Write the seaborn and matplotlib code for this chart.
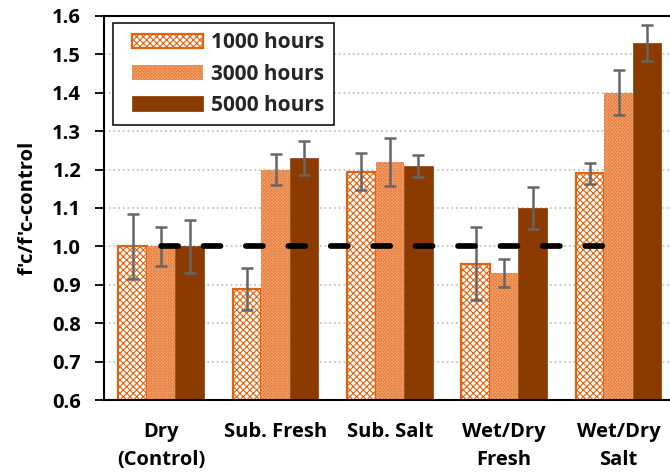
import matplotlib
matplotlib.use("Agg")
import matplotlib.pyplot as plt
from matplotlib.patches import Rectangle
from matplotlib.legend_handler import HandlerPatch
import seaborn as sns
import pandas as pd
import numpy as np

# Exposure conditions and durations
categories = ["Dry\n(Control)", "Sub. Fresh", "Sub. Salt", "Wet/Dry\nFresh", "Wet/Dry\nSalt"]
series = ["1000 hours", "3000 hours", "5000 hours"]

# Normalized compressive strength f'c / f'c-control
h1000 = [1.00, 0.89, 1.195, 0.955, 1.19]
h3000 = [1.00, 1.20, 1.22, 0.93, 1.40]
h5000 = [1.00, 1.23, 1.21, 1.10, 1.53]

# Standard deviations
err1000 = [0.085, 0.055, 0.048, 0.095, 0.027]
err3000 = [0.050, 0.040, 0.063, 0.037, 0.059]
err5000 = [0.068, 0.045, 0.029, 0.055, 0.047]

control_level = 1.0
y_ticks = [0.6, 0.7, 0.8, 0.9, 1.0, 1.1, 1.2, 1.3, 1.4, 1.5, 1.6]

values = [h1000, h3000, h5000]
errors = [err1000, err3000, err5000]

df = pd.DataFrame({
    "condition": np.repeat([categories], 3, axis=0).ravel(),
    "duration": np.repeat(series, len(categories)),
    "ratio": np.concatenate(values),
})

FONT = ["Open Sans", "DejaVu Sans"]

sns.set_theme(style="white")
plt.rcParams["font.family"] = FONT
plt.rcParams["font.weight"] = "bold"
plt.rcParams["hatch.linewidth"] = 0.8

ORANGE = "#E2620E"
MID = "#E06820"
MID_HATCH = "#EE9A62"
DARK = "#8B3A00"

fig = plt.figure(figsize=(6.7, 4.75), dpi=100)
ax = fig.add_axes([104 / 670, 75 / 475, 566 / 670, 384 / 475])

sns.barplot(data=df, x="condition", y="ratio", hue="duration",
            order=categories, hue_order=series, width=0.75, gap=0,
            errorbar=None, ax=ax, legend=False, zorder=2)

styles = [
    dict(facecolor="white", edgecolor=ORANGE, hatch="xxxxx", linewidth=1.6),
    dict(facecolor=MID, edgecolor=MID_HATCH, hatch="xxxxxxxxxx", linewidth=0),
    dict(facecolor=DARK, edgecolor=DARK, hatch=None, linewidth=0.5),
]
for cont, st in zip(ax.containers, styles):
    for bar in cont:
        bar.set_facecolor(st["facecolor"])
        bar.set_edgecolor(st["edgecolor"])
        bar.set_hatch(st["hatch"])
        bar.set_linewidth(st["linewidth"])

# Error bars at the centre of each bar
for cont, vals, errs in zip(ax.containers, values, errors):
    xs = [b.get_x() + b.get_width() / 2 for b in cont]
    ax.errorbar(xs, vals, yerr=errs, fmt="none", ecolor="#666666",
                elinewidth=1.8, capsize=4.5, capthick=1.8, zorder=4)

# Control reference level
ax.plot([0, len(categories) - 1], [control_level, control_level], color="black",
        linewidth=4.1, linestyle=(0, (3.0, 4.45)), dash_capstyle="round", zorder=5)

ax.set_ylim(y_ticks[0], y_ticks[-1])
ax.set_xlim(-0.5, len(categories) - 0.55)
ax.set_yticks(y_ticks)
ax.set_yticklabels([f"{t:.1f}" for t in y_ticks])
ax.grid(axis="y", linestyle=(0, (1, 1.6)), color="#C4C4C4", linewidth=1.3, zorder=0)
ax.set_axisbelow(True)

ax.tick_params(axis="y", direction="out", length=6.5, width=1.3, pad=10,
               labelsize=14.5, colors="black", left=True)
ax.tick_params(axis="x", length=0, pad=16, labelsize=14.5, colors="black")
for lbl in ax.get_xticklabels() + ax.get_yticklabels():
    lbl.set_fontweight("bold")
    lbl.set_family(FONT)
for lbl in ax.get_xticklabels():
    lbl.set_linespacing(1.55)

ax.set_xlabel("")
ax.set_ylabel("f'c/f'c-control", fontsize=14.5, fontweight="bold", color="black",
              family=FONT)
ax.yaxis.set_label_coords(-0.118, 0.5)

for side in ["left", "bottom", "top"]:
    ax.spines[side].set_visible(True)
    ax.spines[side].set_color("black")
    ax.spines[side].set_linewidth(1.5)
ax.spines["right"].set_visible(False)


def inset_patch(legend, orig_handle, xdescent, ydescent, width, height, fontsize):
    # swatch drawn with a left margin inside the handle box
    margin = 0.46 * fontsize
    return Rectangle((-xdescent + margin, -ydescent), width - margin, height)


handles = [cont[0] for cont in ax.containers]
leg = ax.legend(handles, series, loc="upper left", bbox_to_anchor=(0.016, 0.982),
                borderaxespad=0, fancybox=False, framealpha=1, edgecolor="black",
                prop={"family": FONT, "weight": "bold", "size": 15},
                handlelength=3.87, handleheight=0.72, handletextpad=0.38,
                labelspacing=0.5, borderpad=0.45,
                handler_map={h: HandlerPatch(patch_func=inset_patch) for h in handles})
leg.get_frame().set_linewidth(1.1)

fig.savefig("out.png", dpi=100)
